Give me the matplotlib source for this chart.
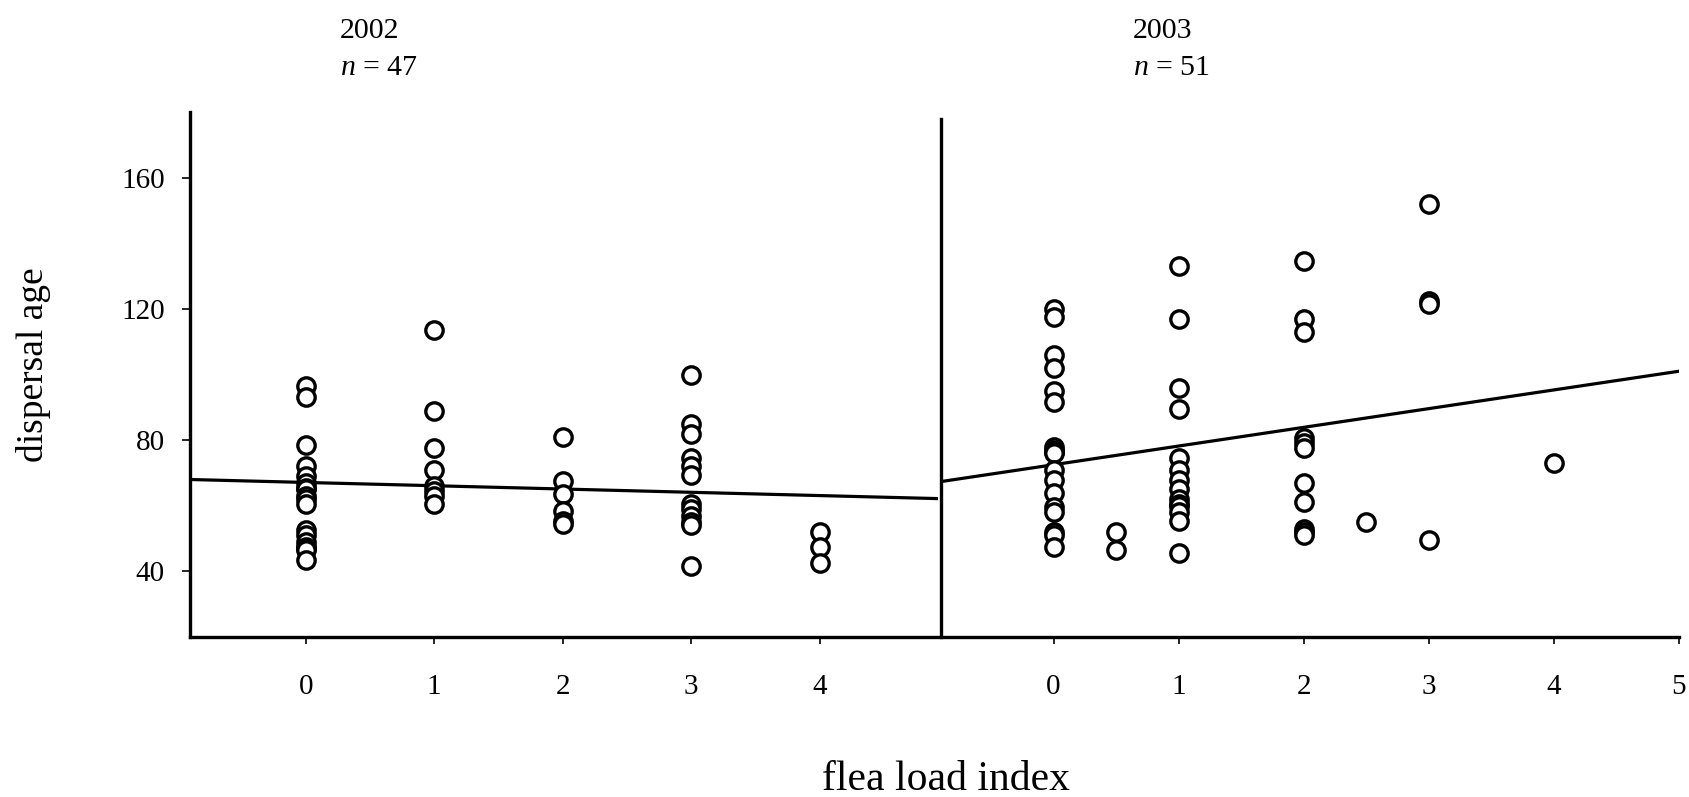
import matplotlib
matplotlib.use("Agg")
import matplotlib.pyplot as plt
import numpy as np

plt.rcParams['font.family'] = ['Liberation Serif', 'DejaVu Serif']
plt.rcParams['mathtext.fontset'] = 'custom'
plt.rcParams['mathtext.rm'] = 'Liberation Serif'
plt.rcParams['mathtext.it'] = 'Liberation Serif:italic'

# 2002 : flea load index -> dispersal ages (n = 47)
flea_2002 = [0] * 18 + [1] * 8 + [2] * 6 + [3] * 12 + [4] * 3
age_2002 = [96.5, 93, 78.5, 72, 69, 67, 65.5, 65, 63, 62, 60.5, 52.5, 51, 49, 47.5, 47, 46.5, 43.5,
            113.5, 89, 77.5, 71, 66, 64.5, 63, 60.5,
            81, 67.5, 63.5, 58.5, 55.5, 54.5,
            100, 85, 82, 74.5, 72, 69.5, 60.5, 59, 57, 55, 54, 41.5,
            52, 47.5, 42.5]

# 2003 : flea load index -> dispersal ages (n = 51)
flea_2003 = [0] * 18 + [0.5] * 2 + [1] * 14 + [2] * 11 + [2.5] + [3] * 4 + [4]
age_2003 = [120, 117.5, 106, 102, 95, 91.5, 78, 77, 76.5, 76, 71, 68, 64, 59.5, 58, 52, 51, 47.5,
            52, 46.5,
            133, 117, 96, 89.5, 74.5, 71, 68, 65, 62, 60.5, 60, 58, 55.5, 45.5,
            134.5, 117, 113, 80.5, 79, 77.5, 67, 61, 53, 52, 51,
            55,
            152, 122.5, 121.5, 49.5,
            73]

# regression lines (intercept, slope)
fit_2002 = (67.1, -1.0)
fit_2003 = (72.5, 5.7)

years = ["2002", "2003"]
n_obs = [47, 51]
xticks_2002 = [0, 1, 2, 3, 4]
xticks_2003 = [0, 1, 2, 3, 4, 5]
yticks = [40, 80, 120, 160]

W, H = 1690, 797
fig = plt.figure(figsize=(W / 100, H / 100), dpi=100)

bottom = 1 - 637 / H
height = (637 - 112) / H
ax1 = fig.add_axes([190 / W, bottom, (938 - 190) / W, height])
ax2 = fig.add_axes([941 / W, bottom, (1679 - 941) / W, height])


def panel(ax, x, y, fit, xlim, xticks):
    ax.plot(x, y, linestyle="none", marker="o", markersize=12.5,
            markerfacecolor="white", markeredgecolor="black", markeredgewidth=2.4,
            zorder=3)
    xs = np.array(xlim)
    ax.plot(xs, fit[0] + fit[1] * xs, color="black", linewidth=2.3, zorder=2)
    ax.set_xlim(xlim)
    ax.set_ylim(20, 180)
    ax.set_xticks(xticks)
    ax.tick_params(axis="x", direction="out", length=5, width=1.2,
                   labelsize=21, pad=22)
    for s in ["top", "right"]:
        ax.spines[s].set_visible(False)
    for s in ["left", "bottom"]:
        ax.spines[s].set_linewidth(2.4)


panel(ax1, flea_2002, age_2002, fit_2002, (-0.9, 4.92), xticks_2002)
panel(ax2, flea_2003, age_2003, fit_2003, (-0.9, 5.0), xticks_2003)

ax1.set_yticks(yticks)
ax1.tick_params(axis="y", direction="out", length=6, width=1.2, labelsize=21, pad=12)
ax2.set_yticks([])
ax2.spines["left"].set_bounds(20, 178)

# year headers
for ax_x, yr, n in [(340 / W, years[0], n_obs[0]), (1133 / W, years[1], n_obs[1])]:
    fig.text(ax_x, 1 - 38 / H, yr, fontsize=21.5, va="baseline", ha="left")
    fig.text(ax_x, 1 - 75 / H, "$n$ = %d" % n, fontsize=21.5, va="baseline", ha="left")

fig.text(946 / W, 1 - 790 / H, "flea load index", fontsize=30, ha="center", va="baseline")
fig.text(34 / W, 1 - 365 / H, "dispersal age", fontsize=27, rotation=90,
         ha="center", va="center")

fig.savefig("out.png", dpi=100)
